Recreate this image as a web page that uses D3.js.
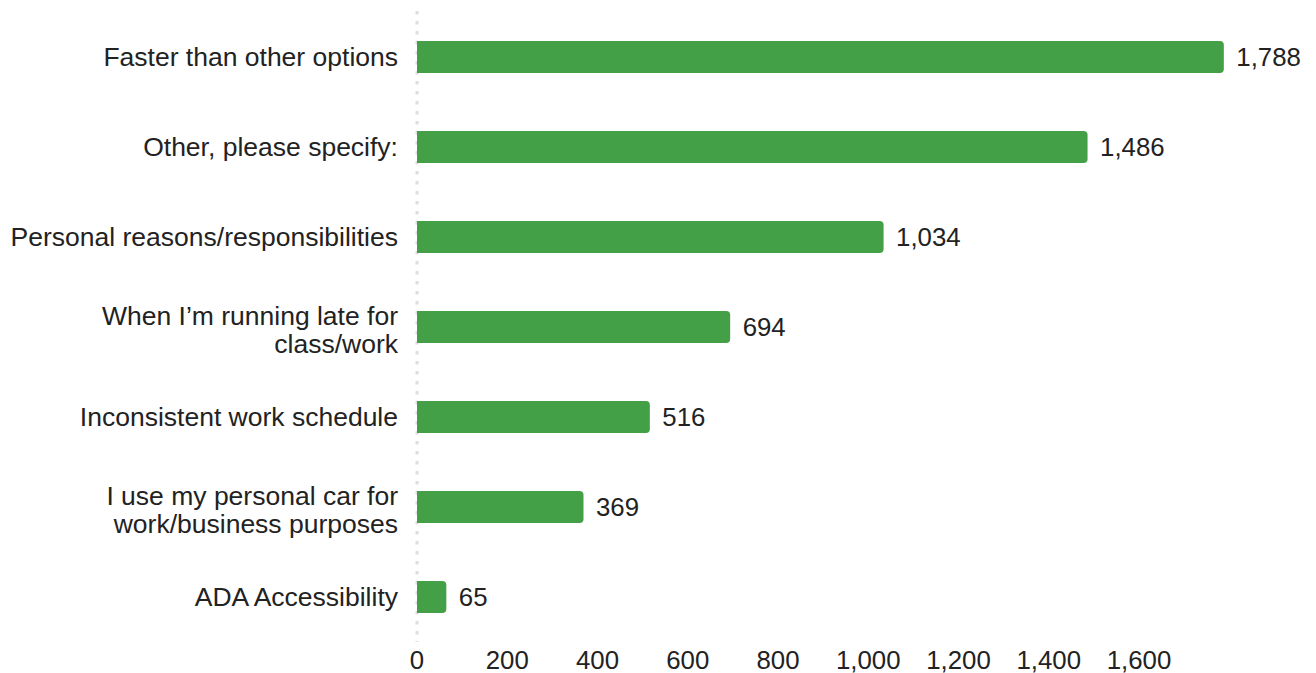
<!DOCTYPE html>
<html>
<head>
<meta charset="utf-8">
<script src="https://cdn.jsdelivr.net/npm/d3@7"></script>
<style>
  body { margin: 0; background: #fff; }
  svg text { font-family: "Liberation Sans", Arial, sans-serif; fill: #222; }
</style>
</head>
<body>
<div id="chart"></div>
<script>
// data
var categories = [
  "Faster than other options",
  "Other, please specify:",
  "Personal reasons/responsibilities",
  "When I\u2019m running late for class/work",
  "Inconsistent work schedule",
  "I use my personal car for work/business purposes",
  "ADA Accessibility"
];
var counts = [1788, 1486, 1034, 694, 516, 369, 65];
var tickValues = [0, 200, 400, 600, 800, 1000, 1200, 1400, 1600];

var width = 1316, height = 673;
var plotLeft = 417, plotTop = 12, plotBottom = 642;
var labelSize = 26.5, numSize = 25.8;

var svg = d3.select("#chart").append("svg")
    .attr("width", width)
    .attr("height", height);

var x = d3.scaleLinear()
    .domain([0, 1600])
    .range([plotLeft, 1139]);

var y = d3.scaleBand()
    .domain(categories)
    .range([plotTop, plotBottom])
    .paddingInner(0.644)
    .paddingOuter(0.322);

// dotted zero line
svg.append("line")
    .attr("x1", x(0)).attr("x2", x(0))
    .attr("y1", plotTop - 1).attr("y2", plotBottom)
    .attr("stroke", "#dedede")
    .attr("stroke-width", 3)
    .attr("stroke-dasharray", "3.5,6.5");

// bars, rounded on the right end only
var r = 4;
svg.append("g").selectAll("path")
    .data(counts)
    .enter()
    .append("path")
    .attr("fill", "#43a047")
    .attr("d", function(d, i) {
      var x0 = x(0), x1 = x(d), y0 = y(categories[i]), h = y.bandwidth();
      return "M" + x0 + "," + y0 +
        "H" + (x1 - r) +
        "Q" + x1 + "," + y0 + " " + x1 + "," + (y0 + r) +
        "V" + (y0 + h - r) +
        "Q" + x1 + "," + (y0 + h) + " " + (x1 - r) + "," + (y0 + h) +
        "H" + x0 + "Z";
    });

// value labels
svg.append("g").selectAll("text")
    .data(counts)
    .enter()
    .append("text")
    .attr("x", d => x(d) + 12.5)
    .attr("y", (d, i) => y(categories[i]) + y.bandwidth() / 2)
    .attr("dy", "0.35em")
    .style("font-size", numSize + "px")
    .text(d => d3.format(",")(d));

// category labels, wrapped
function textLen(t) { return t.node().getComputedTextLength(); }

var labels = svg.append("g").selectAll("text")
    .data(categories)
    .enter()
    .append("text")
    .attr("text-anchor", "end")
    .style("font-size", labelSize + "px")
    .attr("x", plotLeft - 19);

labels.each(function(d) {
  var t = d3.select(this);
  var words = d.split(" ");
  var lines = [], line = [];
  words.forEach(function(w) {
    line.push(w);
    t.text(line.join(" "));
    if (textLen(t) > 400 && line.length > 1) {
      line.pop();
      lines.push(line.join(" "));
      line = [w];
    }
  });
  lines.push(line.join(" "));
  t.text(null);
  var lh = 28;
  var cy = y(d) + y.bandwidth() / 2 + (lines.length > 1 ? 3 : 0);
  lines.forEach(function(l, k) {
    t.append("tspan")
      .attr("x", plotLeft - 19)
      .attr("y", cy + (k - (lines.length - 1) / 2) * lh)
      .attr("dy", "0.35em")
      .text(l);
  });
});

// x axis tick labels
svg.append("g").selectAll("text")
    .data(tickValues)
    .enter()
    .append("text")
    .attr("x", d => x(d))
    .attr("y", 660)
    .attr("dy", "0.35em")
    .attr("text-anchor", "middle")
    .style("font-size", numSize + "px")
    .text(d => d3.format(",")(d));
</script>
</body>
</html>
